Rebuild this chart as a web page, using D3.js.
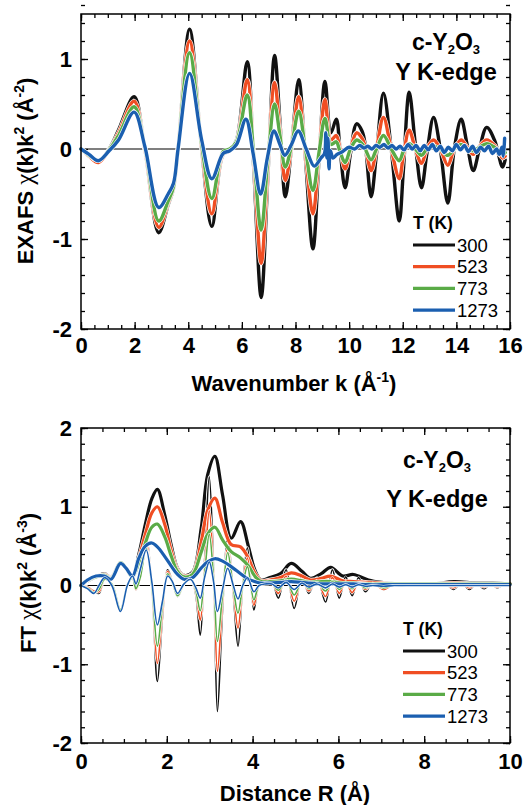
<!DOCTYPE html>
<html>
<head>
<meta charset="utf-8">
<script src="https://cdn.jsdelivr.net/npm/d3@7"></script>
<style>
  body { margin: 0; background: #fff; }
</style>
</head>
<body>
<div id="my_dataviz"></div>
<script>

// --------------------------------------------------------
// (1) Data
// --------------------------------------------------------

// legend
var temps = ["300", "523", "773", "1273"]
var colors = ["#111111", "#f04e23", "#5aab47", "#1b5fb0"]

// top panel : EXAFS chi(k)k^2
var kData = [0, 0.3, 0.65, 1.05, 1.4, 1.98, 2.38, 2.9, 3.25, 3.45,
  3.62, 4.05, 4.5, 4.88, 5.3, 5.55, 5.8, 6.2, 6.45, 6.72,
  6.97, 7.22, 7.42, 7.62, 7.86, 8.12, 8.37, 8.65, 8.88, 9.1,
  9.32, 9.52, 9.66, 9.85, 10.05, 10.28, 10.48, 10.6, 10.82, 11.02,
  11.28, 11.57, 11.87, 12.02, 12.24, 12.47, 12.7, 12.9, 13.15, 13.4,
  13.68, 13.92, 14.18, 14.4, 14.63, 14.86, 15.13, 15.42, 15.72, 15.82]

var chi300 = [0, -0.07, -0.14, 0.0, 0.21, 0.58, 0.0, -0.93, -0.62, -0.44,
  0.0, 1.33, 0.0, -0.86, -0.06, -0.02, 0.1, 0.97, -0.25, -1.65,
  -0.3, 1.04, 0.3, -0.53, 0.05, 0.77, -0.1, -1.11, -0.1, 0.75,
  0.18, 0.33, 0.0, -0.43, -0.05, 0.28, 0.2, 0.05, -0.53, -0.05,
  0.62, 0.0, -0.8, -0.25, 0.63, 0.05, -0.43, -0.05, 0.35, 0.0,
  -0.6, 0.0, 0.33, 0.05, -0.24, 0.0, 0.24, 0.1, -0.2, -0.12]

var chi523 = [0, -0.08, -0.15, -0.01, 0.18, 0.53, 0.0, -0.87, -0.6, -0.43,
  0.0, 1.2, 0.02, -0.72, -0.05, -0.02, 0.08, 0.77, -0.15, -1.27,
  -0.2, 0.74, 0.2, -0.35, 0.05, 0.58, -0.05, -0.72, -0.05, 0.55,
  0.1, 0.15, 0.0, -0.22, 0.0, 0.18, 0.12, 0.03, -0.24, 0.0,
  0.35, 0.0, -0.33, -0.08, 0.21, 0.0, -0.16, 0.0, 0.1, 0.0,
  -0.18, 0.0, 0.1, 0.02, -0.06, 0.03, 0.1, 0.04, -0.1, -0.08]

var chi773 = [0, -0.07, -0.13, -0.01, 0.15, 0.47, 0.02, -0.8, -0.58, -0.42,
  0.0, 1.07, 0.05, -0.55, -0.03, 0.0, 0.08, 0.6, -0.1, -0.9,
  -0.12, 0.5, 0.15, -0.2, 0.05, 0.42, 0.0, -0.46, -0.03, 0.34,
  0.05, 0.08, -0.03, -0.15, 0.0, 0.1, 0.06, 0.0, -0.12, 0.0,
  0.15, 0.0, -0.13, -0.03, 0.06, 0.0, -0.07, 0.0, 0.03, 0.0,
  -0.07, 0.0, 0.05, 0.0, -0.02, 0.02, 0.06, 0.02, -0.06, -0.04]

// 1273 K is noisy past 9, so it gets its own k points
var kBlue = [0, 0.3, 0.65, 1.05, 1.4, 1.98, 2.38, 2.9, 3.25, 3.45,
  3.62, 4.05, 4.5, 4.88, 5.3, 5.55, 5.8, 6.15, 6.42, 6.7,
  6.95, 7.2, 7.42, 7.6, 7.85, 8.1, 8.4, 8.7, 8.95, 9.08,
  9.13, 9.17, 9.21, 9.25, 9.3, 9.4, 9.55, 9.75, 10.0, 10.2,
  10.4, 10.55, 10.7, 10.85, 11.0, 11.15, 11.3, 11.45, 11.6, 11.75,
  11.9, 12.05, 12.2, 12.35, 12.5, 12.65, 12.8, 12.95, 13.1, 13.25,
  13.4, 13.55, 13.7, 13.85, 14.0, 14.15, 14.3, 14.45, 14.6, 14.75,
  14.9, 15.05, 15.2, 15.35, 15.5, 15.6, 15.7, 15.75, 15.8]

var chi1273 = [0, -0.06, -0.13, -0.02, 0.1, 0.41, 0.03, -0.65, -0.5, -0.38,
  0.0, 0.84, 0.1, -0.33, -0.05, -0.02, 0.05, 0.33, -0.05, -0.5,
  -0.1, 0.2, 0.05, -0.07, 0.05, 0.2, 0.0, -0.19, -0.1, -0.05,
  0.18, -0.1, 0.12, -0.22, -0.02, -0.1, -0.06, -0.03, 0.02, 0.0,
  0.04, 0.01, 0.03, 0.0, 0.04, 0.02, 0.05, 0.01, 0.04, 0.0,
  0.03, -0.01, 0.05, 0.0, 0.04, -0.02, 0.04, -0.01, 0.05, -0.02,
  0.03, -0.04, 0.02, -0.02, 0.05, -0.01, 0.04, -0.03, 0.03, -0.04,
  0.02, -0.02, 0.03, -0.05, 0.0, -0.06, 0.02, -0.08, 0.12]

// bottom panel : FT magnitude (thick lines)
var rMag = [0, 0.15, 0.35, 0.55, 0.7, 0.92, 1.05, 1.2, 1.35, 1.5,
  1.65, 1.78, 1.95, 2.1, 2.25, 2.4, 2.6, 2.8, 2.95, 3.12,
  3.3, 3.5, 3.72, 3.9, 4.05, 4.2, 4.4, 4.65, 4.9, 5.15,
  5.35, 5.6, 5.82, 6.1, 6.35, 6.7, 7.0, 7.4, 7.8, 8.2,
  8.7, 9.2, 9.6, 10]

var mag300 = [0, 0.06, 0.11, 0.15, 0.1, 0.29, 0.22, 0.12, 0.4, 0.78,
  1.1, 1.22, 0.9, 0.52, 0.22, 0.13, 0.17, 0.72, 1.4, 1.64,
  1.15, 0.6, 0.81, 0.5, 0.2, 0.07, 0.1, 0.15, 0.28, 0.18,
  0.09, 0.15, 0.23, 0.12, 0.14, 0.07, 0.04, 0.02, 0.02, 0.02,
  0.05, 0.03, 0.03, 0.02]

var mag523 = [0, 0.07, 0.11, 0.14, 0.1, 0.29, 0.22, 0.11, 0.35, 0.65,
  0.92, 1.0, 0.78, 0.45, 0.2, 0.12, 0.15, 0.55, 0.95, 1.11,
  0.8, 0.52, 0.49, 0.35, 0.16, 0.06, 0.07, 0.1, 0.16, 0.12,
  0.07, 0.09, 0.12, 0.06, 0.05, 0.04, 0.03, 0.02, 0.02, 0.02,
  0.03, 0.02, 0.02, 0.02]

var mag773 = [0, 0.07, 0.11, 0.13, 0.09, 0.29, 0.22, 0.11, 0.3, 0.54,
  0.74, 0.78, 0.62, 0.38, 0.18, 0.11, 0.14, 0.42, 0.65, 0.74,
  0.58, 0.43, 0.35, 0.25, 0.12, 0.05, 0.05, 0.06, 0.08, 0.06,
  0.04, 0.05, 0.05, 0.03, 0.03, 0.02, 0.02, 0.02, 0.02, 0.02,
  0.02, 0.02, 0.02, 0.02]

var mag1273 = [0, 0.07, 0.12, 0.12, 0.08, 0.28, 0.22, 0.12, 0.35, 0.5,
  0.54, 0.49, 0.37, 0.25, 0.14, 0.08, 0.1, 0.22, 0.3, 0.34,
  0.31, 0.24, 0.15, 0.08, 0.05, 0.03, 0.03, 0.04, 0.05, 0.04,
  0.03, 0.02, 0.02, 0.02, 0.02, 0.01, 0.01, 0.01, 0.01, 0.01,
  0.01, 0.01, 0.01, 0.01]

// bottom panel : FT oscillating part (thin lines)
var rRe = [0, 0.15, 0.3, 0.42, 0.55, 0.72, 0.92, 1.08, 1.2, 1.28,
  1.38, 1.52, 1.65, 1.78, 1.9, 2.02, 2.13, 2.25, 2.4, 2.55,
  2.67, 2.78, 2.88, 2.99, 3.09, 3.18, 3.3, 3.42, 3.55, 3.66,
  3.77, 3.88, 4.03, 4.15, 4.3, 4.45, 4.6, 4.78, 4.97, 5.15,
  5.31, 5.5, 5.7, 5.86, 6.02, 6.17, 6.32, 6.47, 6.63, 6.8,
  7.05, 7.3, 7.6, 8.0, 8.3, 8.5, 8.68, 8.87, 9.05, 9.22,
  9.4, 9.55, 9.7, 9.85, 10]

var re300 = [0, -0.02, -0.07, -0.1, 0.08, 0.02, -0.31, 0.0, 0.1, -0.05,
  0.1, 0.6, 0.0, -1.22, -0.4, 0.2, 0.05, -0.14, 0.02, 0.12,
  -0.1, -0.63, 0.3, 1.38, 0.2, -1.6, -0.3, 0.62, -0.1, -0.77,
  0.0, 0.48, -0.31, 0.0, 0.06, 0.05, -0.16, 0.2, -0.29, 0.12,
  -0.1, 0.1, -0.21, 0.2, -0.16, 0.11, -0.13, 0.1, -0.08, 0.04,
  -0.05, 0.02, 0.0, 0.0, 0.0, 0.02, -0.05, 0.03, -0.05, 0.02,
  -0.04, 0.02, -0.03, 0.01, 0.0]

var re523 = [0, -0.02, -0.07, -0.08, 0.08, 0.02, -0.31, 0.0, 0.1, -0.05,
  0.1, 0.55, 0.0, -0.99, -0.33, 0.18, 0.04, -0.13, 0.02, 0.11,
  -0.07, -0.44, 0.2, 0.95, 0.15, -1.09, -0.2, 0.5, -0.06, -0.54,
  0.0, 0.35, -0.25, 0.0, 0.05, 0.04, -0.1, 0.12, -0.2, 0.08,
  -0.07, 0.06, -0.14, 0.1, -0.1, 0.05, -0.09, 0.04, -0.05, 0.03,
  -0.05, 0.02, 0.0, 0.0, 0.0, 0.01, -0.03, 0.02, -0.03, 0.01,
  -0.02, 0.01, -0.02, 0.01, 0.0]

var re773 = [0, -0.03, -0.09, -0.05, 0.08, 0.02, -0.31, 0.0, 0.1, -0.04,
  0.1, 0.48, 0.0, -0.77, -0.25, 0.15, 0.04, -0.13, 0.02, 0.1,
  -0.05, -0.32, 0.15, 0.65, 0.1, -0.71, -0.12, 0.42, -0.03, -0.35,
  0.0, 0.24, -0.18, 0.0, 0.04, 0.03, -0.06, 0.07, -0.12, 0.05,
  -0.04, 0.04, -0.07, 0.05, -0.05, 0.03, -0.04, 0.02, -0.03, 0.02,
  -0.03, 0.01, 0.0, 0.0, 0.0, 0.0, -0.01, 0.01, -0.01, 0.0,
  -0.01, 0.0, -0.01, 0.0, 0.0]

var re1273 = [0, -0.04, -0.1, 0.0, 0.1, 0.0, -0.33, 0.0, 0.12, 0.02,
  0.2, 0.45, 0.05, -0.5, -0.2, 0.12, 0.05, -0.1, 0.02, 0.08,
  -0.02, -0.16, 0.1, 0.3, 0.05, -0.33, -0.05, 0.22, 0.0, -0.17,
  0.0, 0.1, -0.08, 0.0, 0.02, 0.02, -0.03, 0.04, -0.05, 0.03,
  -0.02, 0.02, -0.03, 0.02, -0.02, 0.01, -0.02, 0.01, -0.01, 0.0,
  -0.01, 0.0, 0.0, 0.0, 0.0, 0.0, 0.0, 0.0, 0.0, 0.0,
  0.0, 0.0, 0.0, 0.0, 0.0]

// tick values
var kMajor = [0, 2, 4, 6, 8, 10, 12, 14, 16]
var chiMajor = [-2, -1, 0, 1]
var rMajor = [0, 2, 4, 6, 8, 10]
var ftMajor = [-2, -1, 0, 1, 2]


// --------------------------------------------------------
// (2) Main SVG
// --------------------------------------------------------

var svg_width = 527
var svg_height = 805
var fontFamily = "'Liberation Sans', Arial, sans-serif"

const svg = d3.select("#my_dataviz")
  .append("svg")
    .attr("width", svg_width)
    .attr("height", svg_height)
    .style("font-family", fontFamily)

function zipXY(xs, ys) {
  return xs.map((v, i) => [v, ys[i]])
}

function steps(a, b, s) {
  const out = []
  for (let i = 0; Math.round(a / s + i) <= Math.round(b / s); i++) out.push(+(a + i * s).toFixed(3))
  return out
}

// text made of tspans (superscripts, subscripts, chi)
function richText(sel, parts) {
  parts.forEach(p => {
    const t = sel.append("tspan").text(p.t)
    if (p.dy) t.attr("dy", p.dy)
    if (p.size) t.attr("font-size", p.size)
    if (p.serif) t.attr("font-family", "'Liberation Serif', 'DejaVu Serif', serif").attr("font-weight", "normal")
  })
}


// --------------------------------------------------------
// (3) Panel drawing
// --------------------------------------------------------

function drawPanel(p) {

  const x = d3.scaleLinear().domain(p.xDomain).range([p.left, p.right])
  const y = d3.scaleLinear().domain(p.yDomain).range([p.bottom, p.top])
  const g = svg.append("g")

  // (31) ticks on all four sides, pointing inward
  const xMinor = steps(p.xDomain[0], p.xDomain[1], p.xMinorStep)
  const yMinor = steps(p.yDomain[0], p.yDomain[1], 0.2)

  function styleAxis(a) {
    a.select(".domain").remove()
    a.selectAll("line").attr("stroke", "#000").attr("stroke-width", 1.3)
    a.selectAll("text")
      .attr("font-family", fontFamily)
      .attr("font-size", 22)
      .attr("font-weight", "bold")
      .attr("fill", "#000")
  }

  g.append("g").attr("transform", `translate(0,${p.bottom})`)
    .call(d3.axisBottom(x).tickValues(xMinor).tickSize(-4).tickFormat("")).call(styleAxis)
  g.append("g").attr("transform", `translate(0,${p.bottom})`)
    .call(d3.axisBottom(x).tickValues(p.xMajor).tickSize(-7).tickPadding(p.xPad).tickFormat(d => String(d))).call(styleAxis)
  g.append("g").attr("transform", `translate(0,${p.top})`)
    .call(d3.axisTop(x).tickValues(xMinor).tickSize(-4).tickFormat("")).call(styleAxis)
  g.append("g").attr("transform", `translate(0,${p.top})`)
    .call(d3.axisTop(x).tickValues(p.xMajor).tickSize(-7).tickFormat("")).call(styleAxis)

  g.append("g").attr("transform", `translate(${p.left},0)`)
    .call(d3.axisLeft(y).tickValues(yMinor).tickSize(-4).tickFormat("")).call(styleAxis)
  g.append("g").attr("transform", `translate(${p.left},0)`)
    .call(d3.axisLeft(y).tickValues(p.yMajor).tickSize(-7).tickPadding(9).tickFormat(d => String(d))).call(styleAxis)
  g.append("g").attr("transform", `translate(${p.right},0)`)
    .call(d3.axisRight(y).tickValues(yMinor).tickSize(-4).tickFormat("")).call(styleAxis)
  g.append("g").attr("transform", `translate(${p.right},0)`)
    .call(d3.axisRight(y).tickValues(p.yMajor).tickSize(-7).tickFormat("")).call(styleAxis)

  // (32) zero line
  g.append("line")
    .attr("x1", x(p.xDomain[0])).attr("x2", x(p.xDomain[1]))
    .attr("y1", y(0)).attr("y2", y(0))
    .attr("stroke", "#000").attr("stroke-width", 1.1)

  // (33) curves
  const line = d3.line()
    .x(d => x(d[0]))
    .y(d => y(d[1]))
    .curve(d3.curveCatmullRom.alpha(0.5))

  p.series.forEach(s => {
    g.append("path")
      .datum(s.pts)
      .attr("fill", "none")
      .attr("stroke", "#fff")
      .attr("stroke-width", s.w + 1.2)
      .attr("stroke-linejoin", "round")
      .attr("d", line)
    g.append("path")
      .datum(s.pts)
      .attr("fill", "none")
      .attr("stroke", s.color)
      .attr("stroke-width", s.w)
      .attr("stroke-linejoin", "round")
      .attr("stroke-linecap", "round")
      .attr("d", line)
  })

  // (34) frame
  g.append("rect")
    .attr("x", p.left).attr("y", p.top)
    .attr("width", p.right - p.left).attr("height", p.bottom - p.top)
    .attr("fill", "none").attr("stroke", "#000").attr("stroke-width", 1.5)

  // (35) axis titles
  const yt = svg.append("text")
    .attr("transform", `translate(${p.yTitleX},${p.yTitleY}) rotate(-90)`)
    .attr("text-anchor", "middle")
    .attr("font-size", 22).attr("font-weight", "bold")
  richText(yt, p.yTitle)

  const xt = svg.append("text")
    .attr("x", p.xTitleX).attr("y", p.xTitleY)
    .attr("text-anchor", "middle")
    .attr("font-size", 22).attr("font-weight", "bold")
  richText(xt, p.xTitle)

  // (36) sample annotation
  const a1 = svg.append("text")
    .attr("x", p.noteX).attr("y", p.noteY1)
    .attr("text-anchor", "middle")
    .attr("font-size", 23).attr("font-weight", "bold")
  richText(a1, [{t: "c-Y"}, {t: "2", size: 13, dy: 4}, {t: "O", dy: -4}, {t: "3", size: 13, dy: 4}])
  svg.append("text")
    .attr("x", p.noteX).attr("y", p.noteY2)
    .attr("text-anchor", "middle")
    .attr("font-size", 23.5).attr("font-weight", "bold")
    .text("Y K-edge")

  // (37) legend
  svg.append("text")
    .attr("x", p.legX).attr("y", p.legY - 16)
    .attr("font-size", 17.5).attr("font-weight", "bold")
    .text("T (K)")
  temps.forEach((t, i) => {
    const ly = p.legY + i * p.legStep
    svg.append("line")
      .attr("x1", p.legX).attr("x2", p.legX + 42)
      .attr("y1", ly).attr("y2", ly)
      .attr("stroke", colors[i]).attr("stroke-width", 3.2)
    svg.append("text")
      .attr("x", p.legX + 44).attr("y", ly + 6.5)
      .attr("font-size", 18.5)
      .text(t)
  })
}


// --------------------------------------------------------
// (4) Top panel : EXAFS
// --------------------------------------------------------

drawPanel({
  left: 81, right: 510, top: 14, bottom: 329,
  xDomain: [0, 16], yDomain: [-2, 1.5],
  xMajor: kMajor, yMajor: chiMajor, xMinorStep: 0.5, xPad: 8,
  series: [
    {pts: zipXY(kData, chi300), color: colors[0], w: 3.4},
    {pts: zipXY(kData, chi523), color: colors[1], w: 3.4},
    {pts: zipXY(kData, chi773), color: colors[2], w: 3.4},
    {pts: zipXY(kBlue, chi1273), color: colors[3], w: 3.4}
  ],
  yTitleX: 33, yTitleY: 171,
  yTitle: [{t: "EXAFS "}, {t: "\u03c7", serif: true, size: 25}, {t: "(k)k"}, {t: "2", size: 14, dy: -9},
           {t: " (\u00c5", dy: 9}, {t: "-2", size: 14, dy: -9}, {t: ")", dy: 9}],
  xTitleX: 294, xTitleY: 391,
  xTitle: [{t: "Wavenumber k (\u00c5"}, {t: "-1", size: 14, dy: -9}, {t: ")", dy: 9}],
  noteX: 446, noteY1: 50, noteY2: 80,
  legX: 413, legY: 245, legStep: 21.7
})


// --------------------------------------------------------
// (5) Bottom panel : Fourier transform
// --------------------------------------------------------

var ftSeries = []
var mags = [mag300, mag523, mag773, mag1273]
var res = [re300, re523, re773, re1273]
temps.forEach((t, i) => {
  ftSeries.push({pts: zipXY(rMag, mags[i]), color: colors[i], w: 3.2})
  ftSeries.push({pts: zipXY(rRe, res[i]), color: colors[i], w: 1.6})
})

drawPanel({
  left: 81, right: 510, top: 428, bottom: 743,
  xDomain: [0, 10], yDomain: [-2, 2],
  xMajor: rMajor, yMajor: ftMajor, xMinorStep: 0.5, xPad: 10,
  series: ftSeries,
  yTitleX: 36, yTitleY: 583,
  yTitle: [{t: "FT "}, {t: "\u03c7", serif: true, size: 25}, {t: "(k)k"}, {t: "2", size: 14, dy: -9},
           {t: " (\u00c5", dy: 9}, {t: "-3", size: 14, dy: -9}, {t: ")", dy: 9}],
  xTitleX: 295, xTitleY: 801,
  xTitle: [{t: "Distance R (\u00c5)"}],
  noteX: 437, noteY1: 468, noteY2: 507,
  legX: 403, legY: 651, legStep: 21.7
})

</script>
</body>
</html>
